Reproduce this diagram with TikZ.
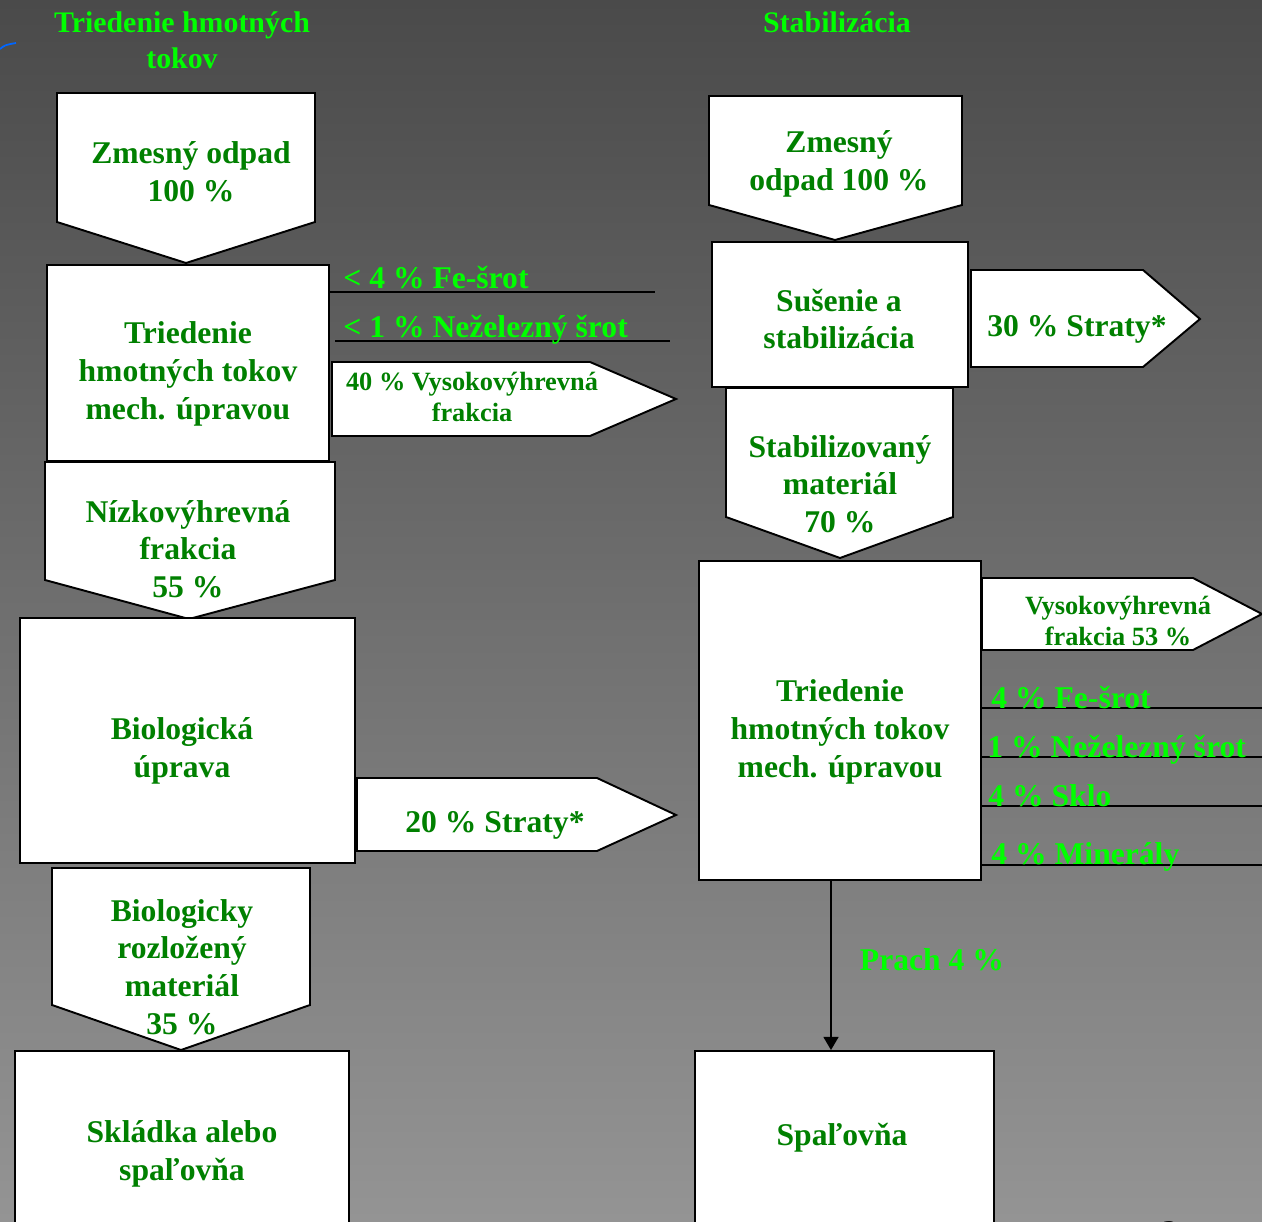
\documentclass[tikz,border=0pt]{standalone}
\usepackage{fontspec}
\setmainfont{Liberation Serif}
\usetikzlibrary{arrows.meta}

\definecolor{boxgreen}{RGB}{0,128,0}
\definecolor{lightgreen}{RGB}{0,255,0}
\definecolor{bgtop}{RGB}{74,74,74}
\definecolor{bgbottom}{RGB}{148,148,148}
\definecolor{penblue}{RGB}{0,102,255}

\tikzset{
	shapebox/.style = {draw=black, fill=white, line width=1.1pt},
	rectbox/.style = {shapebox, inner sep=0pt},
	boxtext/.style = {text=boxgreen, align=center, font=\fontsize{18}{21.5}\selectfont\bfseries},
	smalltext/.style = {text=boxgreen, align=center, font=\fontsize{15}{17.8}\selectfont\bfseries},
	titletext/.style = {text=lightgreen, align=center, font=\fontsize{17}{20.4}\selectfont\bfseries},
	outtext/.style = {text=lightgreen, inner sep=0pt, anchor=west, font=\fontsize{18}{21}\selectfont\bfseries},
	outline/.style = {draw=black, line width=1.1pt},
}

\begin{document}
\begin{tikzpicture}[x=0.02cm, y=-0.02cm]
	\clip (0,0) rectangle (1262,1222);
	\shade[top color=bgtop, bottom color=bgbottom] (0,0) rectangle (1262,1222);
	\draw[penblue, line width=1pt] (0,49) .. controls (5,45) .. (16,43);
	
	% left column: triedenie hmotnych tokov
	\node[titletext] (titleL) at (182,40) {Triedenie hmotných\\tokov};
	
	\draw[shapebox] (57,93) -- (315,93) -- (315,222) -- (186,263) -- (57,222) -- cycle;
	\node[boxtext] (zmesL) at (191,172) {Zmesný odpad\\100 \%};
	
	\node[rectbox, minimum width=5.64cm, minimum height=3.92cm] (sortL) at (188,363) {};
	\node[boxtext] (sortLtxt) at (188,374) {Triedenie\\hmotných tokov\\mech. úpravou};
	
	\draw[outline] (329,292) -- (655,292);
	\draw[outline] (335,341) -- (670,341);
	\node[outtext] (feL) at (343,278) {< 4 \% Fe-šrot};
	\node[outtext] (nfeL) at (343,330) {< 1 \% Neželezný šrot};
	
	\draw[shapebox] (332,362) -- (590,362) -- (676,399) -- (590,436) -- (332,436) -- cycle;
	\node[smalltext] (highL) at (472,397) {40 \% Vysokovýhrevná\\frakcia};
	
	\draw[shapebox] (45,462) -- (335,462) -- (335,580) -- (189,619) -- (45,580) -- cycle;
	\node[boxtext] (lowL) at (188,549) {Nízkovýhrevná\\frakcia\\55 \%};
	
	\node[rectbox, minimum width=6.7cm, minimum height=4.9cm] (bioL) at (187.5,740.5) {};
	\node[boxtext] (bioLtxt) at (182,751) {Biologická\\úprava};
	
	\draw[shapebox] (357,778) -- (597,778) -- (676,815) -- (597,851) -- (357,851) -- cycle;
	\node[boxtext] (lossL) at (495,825) {20 \% Straty*};
	
	\draw[shapebox] (52,868) -- (310,868) -- (310,1005) -- (181,1050) -- (52,1005) -- cycle;
	\node[boxtext] (biodeg) at (182,967) {Biologicky\\rozložený\\materiál\\35 \%};
	
	\node[rectbox, minimum width=6.68cm, minimum height=3.78cm] (landfill) at (182,1145.5) {};
	\node[boxtext] (landfilltxt) at (182,1154) {Skládka alebo\\spaľovňa};
	
	% right column: stabilizacia
	\node[titletext] (titleR) at (837,22) {Stabilizácia};
	
	\draw[shapebox] (709,96) -- (962,96) -- (962,205) -- (835,240) -- (709,205) -- cycle;
	\node[boxtext] (zmesR) at (839,164) {Zmesný\\odpad 100 \%};
	
	\node[rectbox, minimum width=5.12cm, minimum height=2.9cm] (dryR) at (840,314.5) {};
	\node[boxtext] (dryRtxt) at (839,319) {Sušenie a\\stabilizácia};
	
	\draw[shapebox] (971,270) -- (1143,270) -- (1200,319) -- (1143,367) -- (971,367) -- cycle;
	\node[boxtext] (lossR) at (1077,329) {30 \% Straty*};
	
	\draw[shapebox] (726,388) -- (953,388) -- (953,517) -- (840,558) -- (726,517) -- cycle;
	\node[boxtext] (stabR) at (840,484) {Stabilizovaný\\materiál\\70 \%};
	
	\node[rectbox, minimum width=5.64cm, minimum height=6.38cm] (sortR) at (840,720.5) {};
	\node[boxtext] (sortRtxt) at (840,732) {Triedenie\\hmotných tokov\\mech. úpravou};
	
	\draw[shapebox] (982,578) -- (1193,578) -- (1262,614) -- (1193,650) -- (982,650) -- cycle;
	\node[smalltext] (highR) at (1118,621) {Vysokovýhrevná\\frakcia 53 \%};
	
	\foreach \y in {708,757,806,865}
		\draw[outline] (981,\y) -- (1262,\y);
	\node[outtext] (feR) at (991,698) {4 \% Fe-šrot};
	\node[outtext] (nfeR) at (987,750) {1 \% Neželezný šrot};
	\node[outtext] (skloR) at (988,796) {4 \% Sklo};
	\node[outtext] (minR) at (991,857) {4 \% Minerály};
	
	\node[rectbox, minimum width=5.98cm, minimum height=3.78cm] (spal) at (844.5,1145.5) {};
	\node[boxtext] (spaltxt) at (842,1138) {Spaľovňa};
	
	\coordinate (prachx) at (831,0);
	\draw[outline, -{Triangle[length=7.5pt, width=8.5pt]}] (sortR.south -| prachx) -- (spal.north -| prachx);
	\node[outtext, anchor=center] (prach) at (932,960) {Prach 4 \%};
	
	\node[text=black, font=\fontsize{18}{21}\selectfont] (pageno) at (1170,1232) {2};
\end{tikzpicture}
\end{document}
